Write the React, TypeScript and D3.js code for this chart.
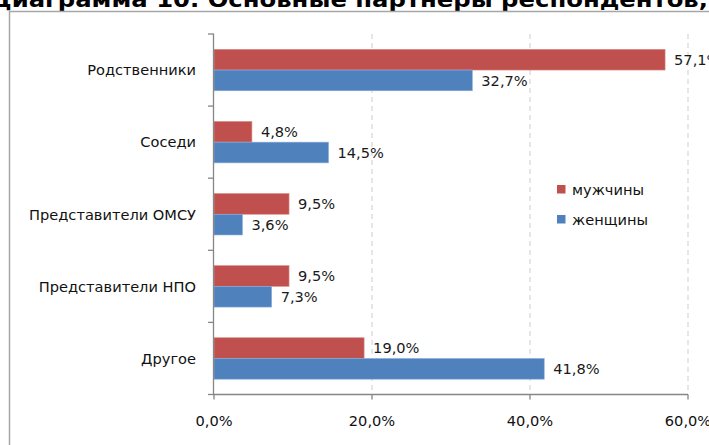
import React from "react";
import * as d3 from "d3";

const categories = ["Родственники", "Соседи", "Представители ОМСУ", "Представители НПО", "Другое"];
const seriesNames = ["мужчины", "женщины"];
const menValues = [57.1, 4.8, 9.5, 9.5, 19.0];
const womenValues = [32.7, 14.5, 3.6, 7.3, 41.8];
const xTicks = [0, 20, 40, 60];
const title = "Диаграмма 10. Основные партнеры респондентов,";

const colors = ["#C0504D", "#4F81BD"];
const W = 709;
const H = 445;
const font = "'DejaVu Sans', Verdana, sans-serif";
const fs = 14.6;

const fmt = (v: number) => v.toFixed(1).replace(".", ",") + "%";

export default function App() {
  const x = d3.scaleLinear().domain([0, 60]).range([214, 688]);
  const y = d3.scaleBand<string>().domain(categories).range([34, 394.5]).padding(0);
  const bw = y.bandwidth();
  const inner = d3
    .scaleBand<string>()
    .domain(seriesNames)
    .range([bw * 0.2125, bw * 0.7875])
    .padding(0);
  const series = [menValues, womenValues];
  const x0 = x(0);
  const yTop = y.range()[0];
  const yBot = y.range()[1];
  const boundaries = categories.map((c) => y(c) as number).concat([yBot]);

  return (
    <svg
      width={W}
      height={H}
      style={{ position: "absolute", left: 0, top: 0, background: "#fff" }}
      fontFamily={font}
    >
      <rect x={0} y={0} width={W} height={H} fill="#fff" />
      <text
        x={-10}
        y={7}
        fontSize={22}
        fontWeight="bold"
        fill="#000"
        textLength={718}
        lengthAdjust="spacingAndGlyphs"
      >
        {title}
      </text>
      {/* chart frame */}
      <path d={`M9.5,${H + 5} V11.5 H${W + 5}`} fill="none" stroke="#a6a6a6" strokeWidth={1.5} />

      {/* grid lines */}
      {xTicks.slice(1).map((t) => (
        <line
          key={"g" + t}
          x1={x(t)}
          x2={x(t)}
          y1={yTop}
          y2={yBot}
          stroke="#d9d9d9"
          strokeWidth={1.3}
          strokeDasharray="5,4"
        />
      ))}

      {/* bars */}
      {categories.map((c, i) => (
        <g key={c} transform={`translate(0,${y(c)})`}>
          {series.map((vals, s) => {
            const by = inner(seriesNames[s]) as number;
            const bh = inner.bandwidth();
            return (
              <g key={s}>
                <rect
                  x={x0}
                  y={by}
                  width={x(vals[i]) - x0}
                  height={bh}
                  fill={colors[s]}
                  stroke={s === 0 ? "#d98d8b" : "#8eaede"}
                  strokeWidth={0.6}
                />
                <text
                  x={x(vals[i]) + 9}
                  y={by + bh / 2}
                  dy="0.36em"
                  fontSize={fs}
                  fill="#1a1a1a"
                >
                  {fmt(vals[i])}
                </text>
              </g>
            );
          })}
        </g>
      ))}

      {/* y axis */}
      <line x1={x0 - 0.5} x2={x0 - 0.5} y1={yTop} y2={yBot} stroke="#868686" strokeWidth={1.3} />
      {boundaries.map((b, i) => (
        <line key={"yt" + i} x1={x0 - 6} x2={x0} y1={b} y2={b} stroke="#868686" strokeWidth={1.3} />
      ))}
      {categories.map((c) => (
        <text
          key={"l" + c}
          x={196}
          y={(y(c) as number) + bw / 2}
          dy="0.36em"
          textAnchor="end"
          fontSize={fs}
          fill="#111"
        >
          {c}
        </text>
      ))}

      {/* x axis */}
      <line x1={x0 - 1} x2={x(60)} y1={yBot} y2={yBot} stroke="#868686" strokeWidth={1.3} />
      {xTicks.map((t) => (
        <g key={"xt" + t}>
          <line x1={x(t)} x2={x(t)} y1={yBot} y2={yBot + 5} stroke="#868686" strokeWidth={1.3} />
          <text x={x(t)} y={421} dy="0.36em" textAnchor="middle" fontSize={fs} fill="#111">
            {fmt(t)}
          </text>
        </g>
      ))}

      {/* legend */}
      {seriesNames.map((n, s) => (
        <g key={"lg" + n} transform={`translate(557,${185 + s * 30})`}>
          <rect x={0} y={0} width={8.5} height={8.5} fill={colors[s]} />
          <text x={15} y={4.5} dy="0.36em" fontSize={fs} fill="#111">
            {n}
          </text>
        </g>
      ))}
    </svg>
  );
}
